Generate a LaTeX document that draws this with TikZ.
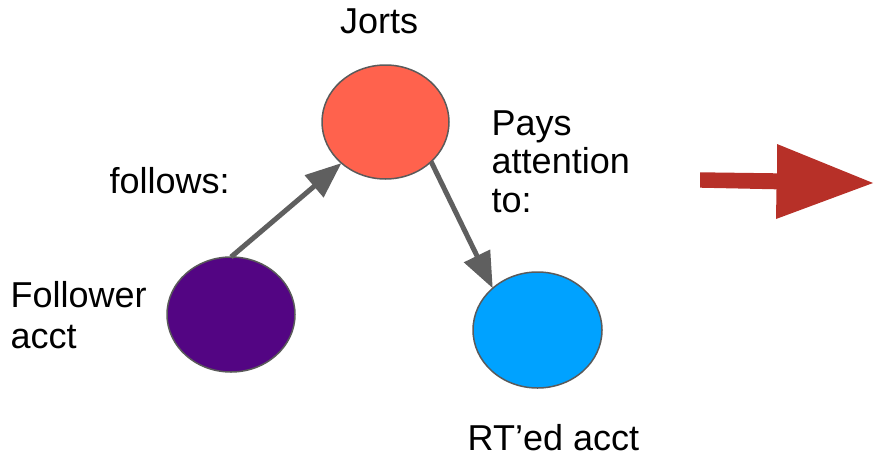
\documentclass[tikz,border=0pt]{standalone}
\usepackage{fontspec}
\setmainfont{Liberation Sans}
\usetikzlibrary{shapes.geometric,arrows.meta}
\definecolor{jortsred}{RGB}{255,98,77}
\definecolor{purp}{RGB}{83,5,131}
\definecolor{blu}{RGB}{0,162,255}
\definecolor{edgegray}{RGB}{90,90,90}
\definecolor{conngray}{RGB}{95,95,95}
\definecolor{bigred}{RGB}{183,48,40}
\tikzset{
  acctnode/.style={ellipse, draw=edgegray, line width=1.5pt, inner sep=0pt, outer sep=0pt},
  conn/.style={draw=conngray, line width=5pt, -{Triangle[length=36pt,width=28pt]}},
  lbl/.style={anchor=base west, inner sep=0pt, font=\fontsize{36}{40}\selectfont}
}
\begin{document}
\begin{tikzpicture}[x=1pt,y=-1pt]
\useasboundingbox (0,0) rectangle (874,463);
\node[acctnode, fill=jortsred, minimum width=127pt, minimum height=114pt] (j) at (385.5,122) {};
\node[acctnode, fill=purp, minimum width=128pt, minimum height=115pt] (p) at (231,314.5) {};
\node[acctnode, fill=blu, minimum width=129pt, minimum height=116pt] (b) at (537.5,330) {};
\draw[conn] (p.north) -- (j.223);
\draw[conn] (j.-41) -- (b.137);
\node[lbl] (tj) at (340,33) {Jorts};
\node[lbl] (tf) at (109.5,193) {follows:};
\node[lbl] (tfa) at (10.5,307) {Follower};
\node[lbl] (tfb) at (10.5,348) {acct};
\node[lbl] (tpa) at (491.5,135) {Pays};
\node[lbl] (tpb) at (491.5,173) {attention};
\node[lbl] (tpc) at (491.5,212) {to:};
\node[lbl] (tr) at (467.5,450) {RT’ed acct};
\coordinate (r1) at (700,172.3);
\coordinate (r2) at (777,173.3);
\coordinate (r3) at (777,144);
\coordinate (r4) at (873,183);
\coordinate (r5) at (776,219);
\coordinate (r6) at (776.5,189.3);
\coordinate (r7) at (700,187.7);
\fill[bigred] (r1) -- (r2) -- (r3) -- (r4) -- (r5) -- (r6) -- (r7) -- cycle;
\end{tikzpicture}
\end{document}
